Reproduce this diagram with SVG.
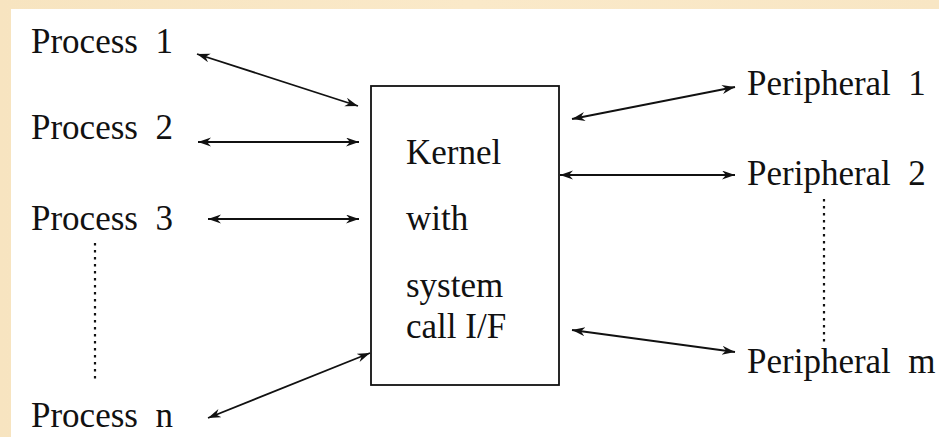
<svg xmlns="http://www.w3.org/2000/svg" width="939" height="437" viewBox="0 0 939 437">
<style>
.lbl{font-family:"Liberation Serif","Times New Roman",serif;font-size:35px;fill:#111;white-space:pre}
.box{fill:#fff;stroke:#111;stroke-width:1.8}
.conn{stroke:#111;stroke-width:1.8;fill:none;marker-start:url(#ah);marker-end:url(#ah)}
.dot{stroke:#111;stroke-width:2.2;fill:none;stroke-dasharray:2.5 4.5}
</style>
<defs>
<linearGradient id="bg" x1="0" y1="0" x2="1" y2="0">
<stop offset="0" stop-color="#f7e4c0"/>
<stop offset="0.5" stop-color="#fae9c9"/>
<stop offset="1" stop-color="#f8e6c4"/>
</linearGradient>
<marker id="ah" markerUnits="userSpaceOnUse" markerWidth="16" markerHeight="10" refX="13" refY="4.5" orient="auto-start-reverse">
<path d="M0,0 L13,4.5 L0,9 L4,4.5 Z" fill="#111"/>
</marker>
</defs>
<rect x="0" y="0" width="939" height="437" fill="url(#bg)"/>
<rect x="11" y="9" width="928" height="428" fill="#fff"/>

<g id="kernel">
<rect class="box" x="371" y="86" width="188" height="299"/>
<text class="lbl" x="406" y="164">Kernel</text>
<text class="lbl" x="406" y="230">with</text>
<text class="lbl" x="406" y="297">system</text>
<text class="lbl" x="406" y="338">call I/F</text>
</g>

<g id="process1"><text class="lbl" x="31" y="53">Process  1</text></g>
<g id="process2"><text class="lbl" x="31" y="139">Process  2</text></g>
<g id="process3"><text class="lbl" x="31" y="230">Process  3</text></g>
<g id="processn"><text class="lbl" x="31" y="427">Process  n</text></g>
<g id="peripheral1"><text class="lbl" x="747" y="95">Peripheral  1</text></g>
<g id="peripheral2"><text class="lbl" x="747" y="185">Peripheral  2</text></g>
<g id="peripheralm"><text class="lbl" x="747" y="373">Peripheral  m</text></g>

<g id="connectors">
<line class="conn" x1="197" y1="54" x2="358" y2="106"/>
<line class="conn" x1="198" y1="142" x2="359" y2="142"/>
<line class="conn" x1="208" y1="219" x2="359" y2="219"/>
<line class="conn" x1="208" y1="418" x2="370" y2="353"/>
<line class="conn" x1="572" y1="119" x2="735" y2="87"/>
<line class="conn" x1="560" y1="175" x2="735" y2="175"/>
<line class="conn" x1="572" y1="330" x2="735" y2="352"/>
<line class="dot" x1="95" y1="243" x2="95" y2="380"/>
<line class="dot" x1="824" y1="199" x2="824" y2="342"/>
</g>
</svg>
